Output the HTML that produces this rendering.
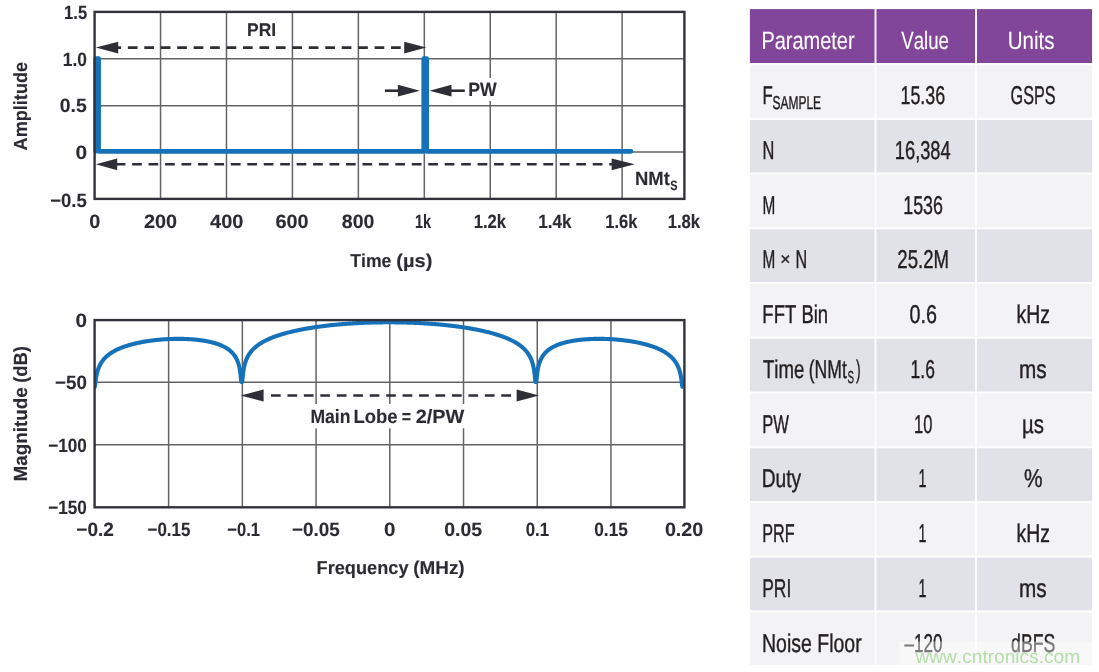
<!DOCTYPE html>
<html lang="en"><head><meta charset="utf-8"><title>Pulse train: time and frequency domain</title>
<style>
html,body{margin:0;padding:0;background:#fff;}
body{width:1099px;height:672px;overflow:hidden;}
svg{display:block;font-family:"Liberation Sans",sans-serif;font-kerning:none;text-rendering:geometricPrecision;}
</style></head><body>
<svg width="1099" height="672" viewBox="0 0 1099 672">
<rect width="1099" height="672" fill="#fff"/>
<g stroke="#666367" stroke-width="1.5" fill="none">
<line x1="160.54" y1="11.9" x2="160.54" y2="198.9"/>
<line x1="226.48" y1="11.9" x2="226.48" y2="198.9"/>
<line x1="292.42" y1="11.9" x2="292.42" y2="198.9"/>
<line x1="358.36" y1="11.9" x2="358.36" y2="198.9"/>
<line x1="424.30" y1="11.9" x2="424.30" y2="198.9"/>
<line x1="490.24" y1="11.9" x2="490.24" y2="198.9"/>
<line x1="556.18" y1="11.9" x2="556.18" y2="198.9"/>
<line x1="622.12" y1="11.9" x2="622.12" y2="198.9"/>
<line x1="94.6" y1="58.8" x2="684.4" y2="58.8"/>
<line x1="94.6" y1="105.7" x2="684.4" y2="105.7"/>
<line x1="94.6" y1="151.9" x2="684.4" y2="151.9"/>
</g>
<rect x="466.5" y="78" width="33" height="23" fill="#fff"/>
<path d="M95.8,151.3 V58.6 H98.55 V151.3 H423.8 V58.6 H426.6 V151.3 H631" fill="none" stroke="#1571b9" stroke-width="4.8" stroke-linejoin="round" stroke-linecap="round"/>
<rect x="94.6" y="11.9" width="589.80" height="187.00" fill="none" stroke="#32323a" stroke-width="2.4"/>
<line x1="111.4" y1="47.6" x2="410" y2="47.6" stroke="#2e2e36" stroke-width="2.6" stroke-dasharray="9.7 6.75"/>
<polygon points="95.8,47.6 118.19999999999999,41.7 118.19999999999999,53.5" fill="#2e2e36"/>
<polygon points="426.3,47.6 404.2,41.7 404.2,53.5" fill="#2e2e36"/>
<line x1="115.7" y1="164.3" x2="615" y2="164.3" stroke="#2e2e36" stroke-width="2.6" stroke-dasharray="9.7 6.75"/>
<polygon points="95.8,164.3 117.19999999999999,158.4 117.19999999999999,170.20000000000002" fill="#2e2e36"/>
<polygon points="634.7,164.3 611.6,158.4 611.6,170.20000000000002" fill="#2e2e36"/>
<line x1="384.9" y1="90.7" x2="400" y2="90.7" stroke="#2e2e36" stroke-width="2.6"/>
<polygon points="419.9,90.7 397.9,84.8 397.9,96.60000000000001" fill="#2e2e36"/>
<line x1="450" y1="90.7" x2="464.8" y2="90.7" stroke="#2e2e36" stroke-width="2.6"/>
<polygon points="429.5,90.7 451.5,84.8 451.5,96.60000000000001" fill="#2e2e36"/>
<text transform="translate(247.09,36.30) scale(0.9480,1)" font-size="18.43" font-weight="700" fill="#2b2b33" stroke="#2b2b33" stroke-width="0.12">PRI</text>
<text transform="translate(468.27,95.90) scale(0.9239,1)" font-size="19.14" font-weight="700" fill="#2b2b33" stroke="#2b2b33" stroke-width="0.12">PW</text>
<text transform="translate(635.02,185.30) scale(0.9569,1)" font-size="19.29" font-weight="700" fill="#2b2b33" stroke="#2b2b33" stroke-width="0.12">NMt</text>
<text transform="translate(670.34,189.60) scale(0.8083,1)" font-size="13.43" font-weight="700" fill="#2b2b33" stroke="#2b2b33" stroke-width="0.12">S</text>
<text transform="translate(64.11,18.90) scale(0.8579,1)" font-size="19.29" font-weight="700" fill="#2b2b33" stroke="#2b2b33" stroke-width="0.12">1.5</text>
<text transform="translate(62.76,66.30) scale(0.9027,1)" font-size="19.29" font-weight="700" fill="#2b2b33" stroke="#2b2b33" stroke-width="0.12">1.0</text>
<text transform="translate(59.79,111.50) scale(1.0066,1)" font-size="19.29" font-weight="700" fill="#2b2b33" stroke="#2b2b33" stroke-width="0.12">0.5</text>
<text transform="translate(75.54,159.20) scale(1.0870,1)" font-size="19.29" font-weight="700" fill="#2b2b33" stroke="#2b2b33" stroke-width="0.12">0</text>
<text transform="translate(50.19,206.80) scale(0.9632,1)" font-size="19.29" font-weight="700" fill="#2b2b33" stroke="#2b2b33" stroke-width="0.12">−0.5</text>
<text transform="translate(89.37,227.70) scale(1.0331,1)" font-size="19.29" font-weight="700" fill="#2b2b33" stroke="#2b2b33" stroke-width="0.12">0</text>
<text transform="translate(143.97,227.70) scale(1.0312,1)" font-size="19.29" font-weight="700" fill="#2b2b33" stroke="#2b2b33" stroke-width="0.12">200</text>
<text transform="translate(210.06,227.70) scale(1.0380,1)" font-size="19.29" font-weight="700" fill="#2b2b33" stroke="#2b2b33" stroke-width="0.12">400</text>
<text transform="translate(275.43,227.70) scale(1.0292,1)" font-size="19.29" font-weight="700" fill="#2b2b33" stroke="#2b2b33" stroke-width="0.12">600</text>
<text transform="translate(341.84,227.70) scale(1.0131,1)" font-size="19.29" font-weight="700" fill="#2b2b33" stroke="#2b2b33" stroke-width="0.12">800</text>
<text transform="translate(415.03,227.70) scale(0.7509,1)" font-size="19.29" font-weight="700" fill="#2b2b33" stroke="#2b2b33" stroke-width="0.12">1k</text>
<text transform="translate(473.70,227.70) scale(0.8640,1)" font-size="19.29" font-weight="700" fill="#2b2b33" stroke="#2b2b33" stroke-width="0.12">1.2k</text>
<text transform="translate(538.27,227.70) scale(0.8887,1)" font-size="19.29" font-weight="700" fill="#2b2b33" stroke="#2b2b33" stroke-width="0.12">1.4k</text>
<text transform="translate(605.21,227.70) scale(0.8557,1)" font-size="19.29" font-weight="700" fill="#2b2b33" stroke="#2b2b33" stroke-width="0.12">1.6k</text>
<text transform="translate(667.70,227.70) scale(0.8640,1)" font-size="19.29" font-weight="700" fill="#2b2b33" stroke="#2b2b33" stroke-width="0.12">1.8k</text>
<g><text transform="translate(350.26,266.60) scale(0.9430,1)" font-size="18.71" font-weight="700" fill="#2b2b33" stroke="#2b2b33" stroke-width="0.12">Time</text><text transform="translate(396.37,266.60) scale(1.0717,1)" font-size="18.71" font-weight="700" fill="#2b2b33" stroke="#2b2b33" stroke-width="0.12">(µs)</text></g>
<text transform="translate(26.90,150.39) rotate(-90) scale(0.9523,1)" font-size="19.00" font-weight="700" fill="#2b2b33" stroke="#2b2b33" stroke-width="0.12">Amplitude</text>
<g stroke="#666367" stroke-width="1.5" fill="none">
<line x1="168.62" y1="320.1" x2="168.62" y2="507.3"/>
<line x1="242.35" y1="320.1" x2="242.35" y2="507.3"/>
<line x1="316.07" y1="320.1" x2="316.07" y2="507.3"/>
<line x1="389.80" y1="320.1" x2="389.80" y2="507.3"/>
<line x1="463.52" y1="320.1" x2="463.52" y2="507.3"/>
<line x1="537.25" y1="320.1" x2="537.25" y2="507.3"/>
<line x1="610.97" y1="320.1" x2="610.97" y2="507.3"/>
<line x1="94.6" y1="382.2" x2="684.4" y2="382.2"/>
<line x1="94.6" y1="444.7" x2="684.4" y2="444.7"/>
</g>
<rect x="307" y="404" width="162" height="24.3" fill="#fff"/>
<clipPath id="cp2"><rect x="94.6" y="320.1" width="589.80" height="187.20"/></clipPath>
<path d="M94.30,387.00 L94.79,387.00 L95.28,384.09 L95.77,379.68 L96.27,376.55 L96.76,374.11 L97.25,372.12 L97.74,370.43 L98.23,368.97 L98.72,367.68 L99.21,366.52 L99.71,365.47 L100.20,364.52 L100.69,363.63 L101.18,362.82 L101.67,362.06 L102.16,361.35 L102.66,360.68 L103.15,360.05 L103.64,359.45 L104.13,358.88 L104.62,358.34 L105.11,357.83 L105.60,357.34 L106.10,356.86 L106.59,356.41 L107.08,355.98 L107.57,355.56 L108.06,355.16 L108.55,354.77 L109.05,354.40 L109.54,354.03 L110.03,353.68 L110.52,353.34 L111.01,353.01 L111.50,352.69 L111.99,352.38 L112.49,352.08 L112.98,351.79 L113.47,351.50 L113.96,351.23 L114.45,350.96 L114.94,350.69 L115.43,350.43 L115.93,350.18 L116.42,349.94 L116.91,349.70 L117.40,349.46 L117.89,349.24 L118.38,349.01 L118.87,348.79 L119.37,348.58 L119.86,348.37 L120.35,348.16 L120.84,347.96 L121.33,347.77 L121.82,347.57 L122.32,347.39 L122.81,347.20 L123.30,347.02 L123.79,346.84 L124.28,346.67 L124.77,346.49 L125.26,346.33 L125.76,346.16 L126.25,346.00 L126.74,345.84 L127.23,345.68 L127.72,345.53 L128.21,345.38 L128.70,345.23 L129.20,345.09 L129.69,344.95 L130.18,344.81 L130.67,344.67 L131.16,344.53 L131.65,344.40 L132.15,344.27 L132.64,344.14 L133.13,344.01 L133.62,343.89 L134.11,343.77 L134.60,343.65 L135.09,343.53 L135.59,343.41 L136.08,343.30 L136.57,343.19 L137.06,343.08 L137.55,342.97 L138.04,342.86 L138.53,342.76 L139.03,342.66 L139.52,342.55 L140.01,342.45 L140.50,342.36 L140.99,342.26 L141.48,342.17 L141.98,342.07 L142.47,341.98 L142.96,341.89 L143.45,341.81 L143.94,341.72 L144.43,341.63 L144.92,341.55 L145.42,341.47 L145.91,341.39 L146.40,341.31 L146.89,341.23 L147.38,341.16 L147.87,341.08 L148.37,341.01 L148.86,340.94 L149.35,340.86 L149.84,340.80 L150.33,340.73 L150.82,340.66 L151.31,340.60 L151.81,340.53 L152.30,340.47 L152.79,340.41 L153.28,340.35 L153.77,340.29 L154.26,340.23 L154.75,340.17 L155.25,340.12 L155.74,340.07 L156.23,340.01 L156.72,339.96 L157.21,339.91 L157.70,339.86 L158.19,339.81 L158.69,339.77 L159.18,339.72 L159.67,339.68 L160.16,339.64 L160.65,339.59 L161.14,339.55 L161.64,339.51 L162.13,339.48 L162.62,339.44 L163.11,339.40 L163.60,339.37 L164.09,339.33 L164.58,339.30 L165.08,339.27 L165.57,339.24 L166.06,339.21 L166.55,339.18 L167.04,339.15 L167.53,339.13 L168.02,339.10 L168.52,339.08 L169.01,339.06 L169.50,339.04 L169.99,339.02 L170.48,339.00 L170.97,338.98 L171.47,338.96 L171.96,338.95 L172.45,338.93 L172.94,338.92 L173.43,338.91 L173.92,338.90 L174.41,338.89 L174.91,338.88 L175.40,338.87 L175.89,338.86 L176.38,338.86 L176.87,338.86 L177.36,338.85 L177.85,338.85 L178.35,338.85 L178.84,338.85 L179.33,338.85 L179.82,338.86 L180.31,338.86 L180.80,338.87 L181.30,338.87 L181.79,338.88 L182.28,338.89 L182.77,338.90 L183.26,338.91 L183.75,338.92 L184.24,338.94 L184.74,338.95 L185.23,338.97 L185.72,338.99 L186.21,339.01 L186.70,339.03 L187.19,339.05 L187.69,339.08 L188.18,339.10 L188.67,339.13 L189.16,339.15 L189.65,339.18 L190.14,339.21 L190.63,339.24 L191.13,339.28 L191.62,339.31 L192.11,339.35 L192.60,339.39 L193.09,339.43 L193.58,339.47 L194.07,339.51 L194.57,339.55 L195.06,339.60 L195.55,339.65 L196.04,339.69 L196.53,339.74 L197.02,339.80 L197.51,339.85 L198.01,339.91 L198.50,339.96 L198.99,340.02 L199.48,340.08 L199.97,340.15 L200.46,340.21 L200.96,340.28 L201.45,340.35 L201.94,340.42 L202.43,340.49 L202.92,340.56 L203.41,340.64 L203.90,340.72 L204.40,340.80 L204.89,340.88 L205.38,340.97 L205.87,341.06 L206.36,341.15 L206.85,341.24 L207.34,341.34 L207.84,341.44 L208.33,341.54 L208.82,341.64 L209.31,341.75 L209.80,341.85 L210.29,341.97 L210.79,342.08 L211.28,342.20 L211.77,342.32 L212.26,342.45 L212.75,342.57 L213.24,342.70 L213.73,342.84 L214.23,342.98 L214.72,343.12 L215.21,343.27 L215.70,343.42 L216.19,343.57 L216.68,343.73 L217.17,343.89 L217.67,344.06 L218.16,344.23 L218.65,344.41 L219.14,344.60 L219.63,344.78 L220.12,344.98 L220.62,345.18 L221.11,345.38 L221.60,345.60 L222.09,345.82 L222.58,346.04 L223.07,346.28 L223.56,346.52 L224.06,346.77 L224.55,347.03 L225.04,347.30 L225.53,347.57 L226.02,347.86 L226.51,348.16 L227.00,348.47 L227.50,348.79 L227.99,349.13 L228.48,349.48 L228.97,349.85 L229.46,350.23 L229.95,350.63 L230.45,351.05 L230.94,351.49 L231.43,351.95 L231.92,352.43 L232.41,352.95 L232.90,353.49 L233.39,354.07 L233.89,354.69 L234.38,355.35 L234.87,356.05 L235.36,356.82 L235.85,357.65 L236.34,358.55 L236.83,359.54 L237.33,360.65 L237.82,361.89 L238.31,363.30 L238.80,364.93 L239.29,366.87 L239.78,369.25 L240.28,372.33 L240.77,376.69 L241.26,381.90 L241.75,381.90 L242.24,381.90 L242.73,376.54 L243.22,372.11 L243.71,368.96 L244.20,366.51 L244.69,364.49 L245.18,362.79 L245.67,361.31 L246.16,360.00 L246.65,358.82 L247.14,357.75 L247.63,356.78 L248.12,355.88 L248.61,355.04 L249.10,354.26 L249.59,353.53 L250.08,352.84 L250.57,352.19 L251.06,351.57 L251.55,350.99 L252.04,350.43 L252.53,349.89 L253.02,349.38 L253.51,348.89 L254.00,348.42 L254.49,347.96 L254.98,347.52 L255.47,347.10 L255.96,346.69 L256.46,346.30 L256.95,345.91 L257.44,345.54 L257.93,345.18 L258.42,344.83 L258.91,344.49 L259.40,344.16 L259.89,343.83 L260.38,343.52 L260.87,343.21 L261.36,342.91 L261.85,342.62 L262.34,342.33 L262.83,342.05 L263.32,341.78 L263.81,341.51 L264.30,341.24 L264.79,340.99 L265.28,340.74 L265.77,340.49 L266.26,340.25 L266.75,340.01 L267.24,339.78 L267.73,339.55 L268.22,339.32 L268.71,339.10 L269.20,338.88 L269.69,338.67 L270.18,338.46 L270.67,338.25 L271.16,338.05 L271.65,337.85 L272.14,337.65 L272.63,337.46 L273.12,337.27 L273.61,337.08 L274.10,336.90 L274.59,336.71 L275.08,336.54 L275.57,336.36 L276.06,336.18 L276.55,336.01 L277.04,335.84 L277.53,335.68 L278.02,335.51 L278.51,335.35 L279.00,335.19 L279.49,335.03 L279.98,334.87 L280.47,334.72 L280.96,334.56 L281.45,334.41 L281.94,334.27 L282.43,334.12 L282.92,333.97 L283.41,333.83 L283.90,333.69 L284.39,333.55 L284.89,333.41 L285.38,333.27 L285.87,333.14 L286.36,333.01 L286.85,332.87 L287.34,332.74 L287.83,332.62 L288.32,332.49 L288.81,332.36 L289.30,332.24 L289.79,332.11 L290.28,331.99 L290.77,331.87 L291.26,331.75 L291.75,331.64 L292.24,331.52 L292.73,331.40 L293.22,331.29 L293.71,331.18 L294.20,331.07 L294.69,330.96 L295.18,330.85 L295.67,330.74 L296.16,330.63 L296.65,330.52 L297.14,330.42 L297.63,330.32 L298.12,330.21 L298.61,330.11 L299.10,330.01 L299.59,329.91 L300.08,329.81 L300.57,329.72 L301.06,329.62 L301.55,329.52 L302.04,329.43 L302.53,329.33 L303.02,329.24 L303.51,329.15 L304.00,329.06 L304.49,328.97 L304.98,328.88 L305.47,328.79 L305.96,328.70 L306.45,328.62 L306.94,328.53 L307.43,328.45 L307.92,328.36 L308.41,328.28 L308.90,328.20 L309.39,328.12 L309.88,328.03 L310.37,327.95 L310.86,327.88 L311.35,327.80 L311.84,327.72 L312.33,327.64 L312.82,327.57 L313.32,327.49 L313.81,327.42 L314.30,327.34 L314.79,327.27 L315.28,327.20 L315.77,327.12 L316.26,327.05 L316.75,326.98 L317.24,326.91 L317.73,326.84 L318.22,326.77 L318.71,326.71 L319.20,326.64 L319.69,326.57 L320.18,326.51 L320.67,326.44 L321.16,326.38 L321.65,326.31 L322.14,326.25 L322.63,326.19 L323.12,326.13 L323.61,326.06 L324.10,326.00 L324.59,325.94 L325.08,325.88 L325.57,325.82 L326.06,325.77 L326.55,325.71 L327.04,325.65 L327.53,325.59 L328.02,325.54 L328.51,325.48 L329.00,325.43 L329.49,325.37 L329.98,325.32 L330.47,325.27 L330.96,325.21 L331.45,325.16 L331.94,325.11 L332.43,325.06 L332.92,325.01 L333.41,324.96 L333.90,324.91 L334.39,324.86 L334.88,324.81 L335.37,324.77 L335.86,324.72 L336.35,324.67 L336.84,324.63 L337.33,324.58 L337.82,324.53 L338.31,324.49 L338.80,324.45 L339.29,324.40 L339.78,324.36 L340.27,324.32 L340.76,324.27 L341.25,324.23 L341.75,324.19 L342.24,324.15 L342.73,324.11 L343.22,324.07 L343.71,324.03 L344.20,323.99 L344.69,323.96 L345.18,323.92 L345.67,323.88 L346.16,323.84 L346.65,323.81 L347.14,323.77 L347.63,323.74 L348.12,323.70 L348.61,323.67 L349.10,323.63 L349.59,323.60 L350.08,323.57 L350.57,323.53 L351.06,323.50 L351.55,323.47 L352.04,323.44 L352.53,323.41 L353.02,323.38 L353.51,323.35 L354.00,323.32 L354.49,323.29 L354.98,323.26 L355.47,323.23 L355.96,323.20 L356.45,323.18 L356.94,323.15 L357.43,323.12 L357.92,323.10 L358.41,323.07 L358.90,323.05 L359.39,323.02 L359.88,323.00 L360.37,322.97 L360.86,322.95 L361.35,322.93 L361.84,322.91 L362.33,322.88 L362.82,322.86 L363.31,322.84 L363.80,322.82 L364.29,322.80 L364.78,322.78 L365.27,322.76 L365.76,322.74 L366.25,322.72 L366.74,322.70 L367.23,322.69 L367.72,322.67 L368.21,322.65 L368.70,322.64 L369.19,322.62 L369.69,322.60 L370.18,322.59 L370.67,322.57 L371.16,322.56 L371.65,322.54 L372.14,322.53 L372.63,322.52 L373.12,322.50 L373.61,322.49 L374.10,322.48 L374.59,322.47 L375.08,322.46 L375.57,322.44 L376.06,322.43 L376.55,322.42 L377.04,322.41 L377.53,322.41 L378.02,322.40 L378.51,322.39 L379.00,322.38 L379.49,322.37 L379.98,322.36 L380.47,322.36 L380.96,322.35 L381.45,322.34 L381.94,322.34 L382.43,322.33 L382.92,322.33 L383.41,322.32 L383.90,322.32 L384.39,322.32 L384.88,322.31 L385.37,322.31 L385.86,322.31 L386.35,322.30 L386.84,322.30 L387.33,322.30 L387.82,322.30 L388.31,322.30 L388.80,322.30 L389.29,322.30 L389.78,322.30 L390.27,322.30 L390.76,322.30 L391.25,322.30 L391.74,322.31 L392.23,322.31 L392.72,322.31 L393.21,322.32 L393.70,322.32 L394.19,322.32 L394.68,322.33 L395.17,322.33 L395.66,322.34 L396.15,322.34 L396.64,322.35 L397.13,322.36 L397.62,322.36 L398.12,322.37 L398.61,322.38 L399.10,322.39 L399.59,322.40 L400.08,322.41 L400.57,322.41 L401.06,322.42 L401.55,322.43 L402.04,322.44 L402.53,322.46 L403.02,322.47 L403.51,322.48 L404.00,322.49 L404.49,322.50 L404.98,322.52 L405.47,322.53 L405.96,322.54 L406.45,322.56 L406.94,322.57 L407.43,322.59 L407.92,322.60 L408.41,322.62 L408.90,322.64 L409.39,322.65 L409.88,322.67 L410.37,322.69 L410.86,322.70 L411.35,322.72 L411.84,322.74 L412.33,322.76 L412.82,322.78 L413.31,322.80 L413.80,322.82 L414.29,322.84 L414.78,322.86 L415.27,322.88 L415.76,322.91 L416.25,322.93 L416.74,322.95 L417.23,322.97 L417.72,323.00 L418.21,323.02 L418.70,323.05 L419.19,323.07 L419.68,323.10 L420.17,323.12 L420.66,323.15 L421.15,323.18 L421.64,323.20 L422.13,323.23 L422.62,323.26 L423.11,323.29 L423.60,323.32 L424.09,323.35 L424.58,323.38 L425.07,323.41 L425.56,323.44 L426.05,323.47 L426.55,323.50 L427.04,323.53 L427.53,323.57 L428.02,323.60 L428.51,323.63 L429.00,323.67 L429.49,323.70 L429.98,323.74 L430.47,323.77 L430.96,323.81 L431.45,323.84 L431.94,323.88 L432.43,323.92 L432.92,323.96 L433.41,323.99 L433.90,324.03 L434.39,324.07 L434.88,324.11 L435.37,324.15 L435.86,324.19 L436.35,324.23 L436.84,324.27 L437.33,324.32 L437.82,324.36 L438.31,324.40 L438.80,324.45 L439.29,324.49 L439.78,324.53 L440.27,324.58 L440.76,324.63 L441.25,324.67 L441.74,324.72 L442.23,324.77 L442.72,324.81 L443.21,324.86 L443.70,324.91 L444.19,324.96 L444.68,325.01 L445.17,325.06 L445.66,325.11 L446.15,325.16 L446.64,325.21 L447.13,325.27 L447.62,325.32 L448.11,325.37 L448.60,325.43 L449.09,325.48 L449.58,325.54 L450.07,325.59 L450.56,325.65 L451.05,325.71 L451.54,325.77 L452.03,325.82 L452.52,325.88 L453.01,325.94 L453.50,326.00 L453.99,326.06 L454.48,326.13 L454.98,326.19 L455.47,326.25 L455.96,326.31 L456.45,326.38 L456.94,326.44 L457.43,326.51 L457.92,326.57 L458.41,326.64 L458.90,326.71 L459.39,326.77 L459.88,326.84 L460.37,326.91 L460.86,326.98 L461.35,327.05 L461.84,327.12 L462.33,327.20 L462.82,327.27 L463.31,327.34 L463.80,327.42 L464.29,327.49 L464.78,327.57 L465.27,327.64 L465.76,327.72 L466.25,327.80 L466.74,327.88 L467.23,327.95 L467.72,328.03 L468.21,328.12 L468.70,328.20 L469.19,328.28 L469.68,328.36 L470.17,328.45 L470.66,328.53 L471.15,328.62 L471.64,328.70 L472.13,328.79 L472.62,328.88 L473.11,328.97 L473.60,329.06 L474.09,329.15 L474.58,329.24 L475.07,329.33 L475.56,329.43 L476.05,329.52 L476.54,329.62 L477.03,329.72 L477.52,329.81 L478.01,329.91 L478.50,330.01 L478.99,330.11 L479.48,330.21 L479.97,330.32 L480.46,330.42 L480.95,330.52 L481.44,330.63 L481.93,330.74 L482.42,330.85 L482.91,330.96 L483.41,331.07 L483.90,331.18 L484.39,331.29 L484.88,331.40 L485.37,331.52 L485.86,331.64 L486.35,331.75 L486.84,331.87 L487.33,331.99 L487.82,332.11 L488.31,332.24 L488.80,332.36 L489.29,332.49 L489.78,332.62 L490.27,332.74 L490.76,332.87 L491.25,333.01 L491.74,333.14 L492.23,333.27 L492.72,333.41 L493.21,333.55 L493.70,333.69 L494.19,333.83 L494.68,333.97 L495.17,334.12 L495.66,334.27 L496.15,334.41 L496.64,334.56 L497.13,334.72 L497.62,334.87 L498.11,335.03 L498.60,335.19 L499.09,335.35 L499.58,335.51 L500.07,335.68 L500.56,335.84 L501.05,336.01 L501.54,336.18 L502.03,336.36 L502.52,336.54 L503.01,336.71 L503.50,336.90 L503.99,337.08 L504.48,337.27 L504.97,337.46 L505.46,337.65 L505.95,337.85 L506.44,338.05 L506.93,338.25 L507.42,338.46 L507.91,338.67 L508.40,338.88 L508.89,339.10 L509.38,339.32 L509.87,339.55 L510.36,339.78 L510.85,340.01 L511.34,340.25 L511.84,340.49 L512.33,340.74 L512.82,340.99 L513.31,341.24 L513.80,341.51 L514.29,341.78 L514.78,342.05 L515.27,342.33 L515.76,342.62 L516.25,342.91 L516.74,343.21 L517.23,343.52 L517.72,343.83 L518.21,344.16 L518.70,344.49 L519.19,344.83 L519.68,345.18 L520.17,345.54 L520.66,345.91 L521.15,346.30 L521.64,346.69 L522.13,347.10 L522.62,347.52 L523.11,347.96 L523.60,348.42 L524.09,348.89 L524.58,349.38 L525.07,349.89 L525.56,350.43 L526.05,350.99 L526.54,351.57 L527.03,352.19 L527.52,352.84 L528.01,353.53 L528.50,354.26 L528.99,355.04 L529.48,355.88 L529.97,356.78 L530.46,357.75 L530.95,358.82 L531.44,360.00 L531.93,361.31 L532.42,362.79 L532.91,364.49 L533.40,366.51 L533.89,368.96 L534.38,372.11 L534.87,376.54 L535.36,381.90 L535.85,381.90 L536.34,381.90 L536.83,376.69 L537.32,372.33 L537.81,369.25 L538.30,366.87 L538.79,364.93 L539.28,363.30 L539.78,361.89 L540.27,360.65 L540.76,359.54 L541.25,358.55 L541.74,357.65 L542.23,356.82 L542.72,356.05 L543.21,355.35 L543.70,354.69 L544.19,354.07 L544.68,353.49 L545.17,352.95 L545.66,352.43 L546.15,351.95 L546.64,351.49 L547.13,351.05 L547.62,350.63 L548.11,350.23 L548.60,349.85 L549.09,349.48 L549.58,349.13 L550.07,348.79 L550.56,348.47 L551.05,348.16 L551.54,347.86 L552.03,347.57 L552.52,347.30 L553.01,347.03 L553.50,346.77 L553.99,346.52 L554.48,346.28 L554.97,346.04 L555.46,345.82 L555.95,345.60 L556.44,345.38 L556.93,345.18 L557.42,344.98 L557.91,344.78 L558.40,344.60 L558.89,344.41 L559.38,344.23 L559.87,344.06 L560.36,343.89 L560.85,343.73 L561.34,343.57 L561.83,343.42 L562.32,343.27 L562.81,343.12 L563.30,342.98 L563.79,342.84 L564.28,342.70 L564.77,342.57 L565.26,342.45 L565.75,342.32 L566.24,342.20 L566.73,342.08 L567.22,341.97 L567.71,341.85 L568.21,341.75 L568.70,341.64 L569.19,341.54 L569.68,341.44 L570.17,341.34 L570.66,341.24 L571.15,341.15 L571.64,341.06 L572.13,340.97 L572.62,340.88 L573.11,340.80 L573.60,340.72 L574.09,340.64 L574.58,340.56 L575.07,340.49 L575.56,340.42 L576.05,340.35 L576.54,340.28 L577.03,340.21 L577.52,340.15 L578.01,340.08 L578.50,340.02 L578.99,339.96 L579.48,339.91 L579.97,339.85 L580.46,339.80 L580.95,339.74 L581.44,339.69 L581.93,339.65 L582.42,339.60 L582.91,339.55 L583.40,339.51 L583.89,339.47 L584.38,339.43 L584.87,339.39 L585.36,339.35 L585.85,339.31 L586.34,339.28 L586.83,339.24 L587.32,339.21 L587.81,339.18 L588.30,339.15 L588.79,339.13 L589.28,339.10 L589.77,339.08 L590.26,339.05 L590.75,339.03 L591.24,339.01 L591.73,338.99 L592.22,338.97 L592.71,338.95 L593.20,338.94 L593.69,338.92 L594.18,338.91 L594.67,338.90 L595.16,338.89 L595.65,338.88 L596.14,338.87 L596.64,338.87 L597.13,338.86 L597.62,338.86 L598.11,338.85 L598.60,338.85 L599.09,338.85 L599.58,338.85 L600.07,338.85 L600.56,338.86 L601.05,338.86 L601.54,338.86 L602.03,338.87 L602.52,338.88 L603.01,338.89 L603.50,338.90 L603.99,338.91 L604.48,338.92 L604.97,338.93 L605.46,338.95 L605.95,338.96 L606.44,338.98 L606.93,339.00 L607.42,339.02 L607.91,339.04 L608.40,339.06 L608.89,339.08 L609.38,339.10 L609.87,339.13 L610.36,339.15 L610.85,339.18 L611.34,339.21 L611.83,339.24 L612.32,339.27 L612.81,339.30 L613.30,339.33 L613.79,339.37 L614.28,339.40 L614.77,339.44 L615.26,339.48 L615.75,339.51 L616.24,339.55 L616.73,339.59 L617.22,339.64 L617.71,339.68 L618.20,339.72 L618.69,339.77 L619.18,339.81 L619.67,339.86 L620.16,339.91 L620.65,339.96 L621.14,340.01 L621.63,340.07 L622.12,340.12 L622.61,340.17 L623.10,340.23 L623.59,340.29 L624.08,340.35 L624.57,340.41 L625.07,340.47 L625.56,340.53 L626.05,340.60 L626.54,340.66 L627.03,340.73 L627.52,340.80 L628.01,340.86 L628.50,340.94 L628.99,341.01 L629.48,341.08 L629.97,341.16 L630.46,341.23 L630.95,341.31 L631.44,341.39 L631.93,341.47 L632.42,341.55 L632.91,341.63 L633.40,341.72 L633.89,341.81 L634.38,341.89 L634.87,341.98 L635.36,342.07 L635.85,342.17 L636.34,342.26 L636.83,342.36 L637.32,342.45 L637.81,342.55 L638.30,342.66 L638.79,342.76 L639.28,342.86 L639.77,342.97 L640.26,343.08 L640.75,343.19 L641.24,343.30 L641.73,343.41 L642.22,343.53 L642.71,343.65 L643.20,343.77 L643.69,343.89 L644.18,344.01 L644.67,344.14 L645.16,344.27 L645.65,344.40 L646.14,344.53 L646.63,344.67 L647.12,344.81 L647.61,344.95 L648.10,345.09 L648.59,345.23 L649.08,345.38 L649.57,345.53 L650.06,345.68 L650.55,345.84 L651.04,346.00 L651.53,346.16 L652.02,346.33 L652.51,346.49 L653.00,346.67 L653.50,346.84 L653.99,347.02 L654.48,347.20 L654.97,347.39 L655.46,347.57 L655.95,347.77 L656.44,347.96 L656.93,348.16 L657.42,348.37 L657.91,348.58 L658.40,348.79 L658.89,349.01 L659.38,349.24 L659.87,349.46 L660.36,349.70 L660.85,349.94 L661.34,350.18 L661.83,350.43 L662.32,350.69 L662.81,350.96 L663.30,351.23 L663.79,351.50 L664.28,351.79 L664.77,352.08 L665.26,352.38 L665.75,352.69 L666.24,353.01 L666.73,353.34 L667.22,353.68 L667.71,354.03 L668.20,354.40 L668.69,354.77 L669.18,355.16 L669.67,355.56 L670.16,355.98 L670.65,356.41 L671.14,356.86 L671.63,357.34 L672.12,357.83 L672.61,358.34 L673.10,358.88 L673.59,359.45 L674.08,360.05 L674.57,360.68 L675.06,361.35 L675.55,362.06 L676.04,362.82 L676.53,363.63 L677.02,364.52 L677.51,365.47 L678.00,366.52 L678.49,367.68 L678.98,368.97 L679.47,370.43 L679.96,372.12 L680.45,374.11 L680.94,376.55 L681.44,379.68 L681.93,384.09 L682.42,387.00 L682.91,387.00" fill="none" stroke="#1571b9" stroke-width="4.1" stroke-linejoin="round" stroke-linecap="butt" clip-path="url(#cp2)"/>
<rect x="94.6" y="320.1" width="589.80" height="187.20" fill="none" stroke="#32323a" stroke-width="2.4"/>
<line x1="271" y1="395.5" x2="512" y2="395.5" stroke="#2e2e36" stroke-width="2.6" stroke-dasharray="9.7 6.75"/>
<polygon points="240.6,395.5 263.6,389.4 263.6,401.6" fill="#2e2e36"/>
<polygon points="539.0,395.5 516.6,389.4 516.6,401.6" fill="#2e2e36"/>
<g><text transform="translate(310.38,422.60) scale(0.9119,1)" font-size="19.29" font-weight="700" fill="#2b2b33" stroke="#2b2b33" stroke-width="0.12">Main</text><text transform="translate(353.42,422.60) scale(0.9562,1)" font-size="19.29" font-weight="700" fill="#2b2b33" stroke="#2b2b33" stroke-width="0.12">Lobe</text><text transform="translate(401.79,422.60) scale(0.8273,1)" font-size="19.29" font-weight="700" fill="#2b2b33" stroke="#2b2b33" stroke-width="0.12">=</text><text transform="translate(415.77,422.60) scale(1.0304,1)" font-size="19.29" font-weight="700" fill="#2b2b33" stroke="#2b2b33" stroke-width="0.12">2/PW</text></g>
<text transform="translate(75.54,327.30) scale(1.0762,1)" font-size="19.29" font-weight="700" fill="#2b2b33" stroke="#2b2b33" stroke-width="0.12">0</text>
<text transform="translate(55.08,389.00) scale(0.9730,1)" font-size="19.29" font-weight="700" fill="#2b2b33" stroke="#2b2b33" stroke-width="0.12">−50</text>
<text transform="translate(48.24,451.50) scale(0.8888,1)" font-size="19.29" font-weight="700" fill="#2b2b33" stroke="#2b2b33" stroke-width="0.12">−100</text>
<text transform="translate(48.24,513.90) scale(0.8888,1)" font-size="19.29" font-weight="700" fill="#2b2b33" stroke="#2b2b33" stroke-width="0.12">−150</text>
<text transform="translate(76.27,536.20) scale(0.9885,1)" font-size="19.29" font-weight="700" fill="#2b2b33" stroke="#2b2b33" stroke-width="0.12">−0.2</text>
<text transform="translate(147.55,536.20) scale(0.8785,1)" font-size="19.29" font-weight="700" fill="#2b2b33" stroke="#2b2b33" stroke-width="0.12">−0.15</text>
<text transform="translate(227.37,536.20) scale(0.8574,1)" font-size="19.29" font-weight="700" fill="#2b2b33" stroke="#2b2b33" stroke-width="0.12">−0.1</text>
<text transform="translate(291.97,536.20) scale(0.9815,1)" font-size="19.29" font-weight="700" fill="#2b2b33" stroke="#2b2b33" stroke-width="0.12">−0.05</text>
<text transform="translate(384.05,536.20) scale(1.0654,1)" font-size="19.29" font-weight="700" fill="#2b2b33" stroke="#2b2b33" stroke-width="0.12">0</text>
<text transform="translate(444.29,536.20) scale(1.0095,1)" font-size="19.29" font-weight="700" fill="#2b2b33" stroke="#2b2b33" stroke-width="0.12">0.05</text>
<text transform="translate(525.69,536.20) scale(0.8740,1)" font-size="19.29" font-weight="700" fill="#2b2b33" stroke="#2b2b33" stroke-width="0.12">0.1</text>
<text transform="translate(594.27,536.20) scale(0.8939,1)" font-size="19.29" font-weight="700" fill="#2b2b33" stroke="#2b2b33" stroke-width="0.12">0.15</text>
<text transform="translate(664.88,536.20) scale(1.0249,1)" font-size="19.29" font-weight="700" fill="#2b2b33" stroke="#2b2b33" stroke-width="0.12">0.20</text>
<g><text transform="translate(316.54,574.40) scale(0.9731,1)" font-size="18.71" font-weight="700" fill="#2b2b33" stroke="#2b2b33" stroke-width="0.12">Frequency</text><text transform="translate(413.22,574.40) scale(1.0106,1)" font-size="18.71" font-weight="700" fill="#2b2b33" stroke="#2b2b33" stroke-width="0.12">(MHz)</text></g>
<g><text transform="translate(26.90,481.40) rotate(-90) scale(0.9904,1)" font-size="19.00" font-weight="700" fill="#2b2b33" stroke="#2b2b33" stroke-width="0.12">Magnitude</text><text transform="translate(26.90,382.76) rotate(-90) scale(0.9666,1)" font-size="19.00" font-weight="700" fill="#2b2b33" stroke="#2b2b33" stroke-width="0.12">(dB)</text></g>
<rect x="749.9" y="9.1" width="342.20" height="53.90" fill="#81459a"/>
<rect x="749.9" y="63.00" width="342.20" height="55.83" fill="#f3f3f5"/>
<rect x="749.9" y="118.83" width="342.20" height="54.73" fill="#e1e2e8"/>
<rect x="749.9" y="173.56" width="342.20" height="54.73" fill="#f3f3f5"/>
<rect x="749.9" y="228.29" width="342.20" height="54.73" fill="#e1e2e8"/>
<rect x="749.9" y="283.02" width="342.20" height="54.73" fill="#f3f3f5"/>
<rect x="749.9" y="337.75" width="342.20" height="54.73" fill="#e1e2e8"/>
<rect x="749.9" y="392.48" width="342.20" height="54.73" fill="#f3f3f5"/>
<rect x="749.9" y="447.21" width="342.20" height="54.73" fill="#e1e2e8"/>
<rect x="749.9" y="501.94" width="342.20" height="54.73" fill="#f3f3f5"/>
<rect x="749.9" y="556.67" width="342.20" height="54.73" fill="#e1e2e8"/>
<rect x="749.9" y="611.40" width="342.20" height="53.50" fill="#f3f3f5"/>
<g stroke="#fdfdfe" stroke-width="2.1">
<line x1="749.9" y1="64.10" x2="1092.1" y2="64.10"/>
<line x1="749.9" y1="118.83" x2="1092.1" y2="118.83"/>
<line x1="749.9" y1="173.56" x2="1092.1" y2="173.56"/>
<line x1="749.9" y1="228.29" x2="1092.1" y2="228.29"/>
<line x1="749.9" y1="283.02" x2="1092.1" y2="283.02"/>
<line x1="749.9" y1="337.75" x2="1092.1" y2="337.75"/>
<line x1="749.9" y1="392.48" x2="1092.1" y2="392.48"/>
<line x1="749.9" y1="447.21" x2="1092.1" y2="447.21"/>
<line x1="749.9" y1="501.94" x2="1092.1" y2="501.94"/>
<line x1="749.9" y1="556.67" x2="1092.1" y2="556.67"/>
<line x1="749.9" y1="611.40" x2="1092.1" y2="611.40"/>
</g><g stroke="#fdfdfe" stroke-width="1.9">
<line x1="875.5" y1="9.1" x2="875.5" y2="664.9"/>
<line x1="976.0" y1="9.1" x2="976.0" y2="664.9"/>
</g>
<text transform="translate(761.41,49.20) scale(0.7947,1)" font-size="25.14" font-weight="400" fill="#fff" stroke="#fff" stroke-width="0.12">Parameter</text>
<text transform="translate(901.26,49.20) scale(0.7421,1)" font-size="25.14" font-weight="400" fill="#fff" stroke="#fff" stroke-width="0.12">Value</text>
<text transform="translate(1007.66,49.20) scale(0.8175,1)" font-size="25.14" font-weight="400" fill="#fff" stroke="#fff" stroke-width="0.12">Units</text>
<text transform="translate(762.45,104.10) scale(0.6554,1)" font-size="25.71" font-weight="400" fill="#231f20" stroke="#231f20" stroke-width="0.4">F</text>
<text transform="translate(772.38,109.10) scale(0.6428,1)" font-size="18.71" font-weight="400" fill="#231f20" stroke="#231f20" stroke-width="0.4">SAMPLE</text>
<text transform="translate(762.38,158.84) scale(0.6367,1)" font-size="25.71" font-weight="400" fill="#231f20" stroke="#231f20" stroke-width="0.4">N</text>
<text transform="translate(762.46,213.58) scale(0.5965,1)" font-size="25.71" font-weight="400" fill="#231f20" stroke="#231f20" stroke-width="0.4">M</text>
<text transform="translate(762.46,268.32) scale(0.5965,1)" font-size="25.71" font-weight="400" fill="#231f20" stroke="#231f20" stroke-width="0.4">M</text>
<text transform="translate(780.19,265.12) scale(0.9959,1)" font-size="17.57" font-weight="400" fill="#231f20" stroke="#231f20" stroke-width="0.4">×</text>
<text transform="translate(795.60,268.32) scale(0.6299,1)" font-size="25.71" font-weight="400" fill="#231f20" stroke="#231f20" stroke-width="0.4">N</text>
<text transform="translate(762.33,323.06) scale(0.7200,1)" font-size="25.71" font-weight="400" fill="#231f20" stroke="#231f20" stroke-width="0.4">FFT Bin</text>
<text transform="translate(762.93,377.80) scale(0.7237,1)" font-size="25.71" font-weight="400" fill="#231f20" stroke="#231f20" stroke-width="0.4">Time</text>
<text transform="translate(808.64,377.80) scale(0.6849,1)" font-size="25.71" font-weight="400" fill="#231f20" stroke="#231f20" stroke-width="0.4">(NMt</text>
<text transform="translate(847.57,383.20) scale(0.5559,1)" font-size="17.43" font-weight="400" fill="#231f20" stroke="#231f20" stroke-width="0.4">S</text>
<text transform="translate(856.03,377.80) scale(0.5403,1)" font-size="25.71" font-weight="400" fill="#231f20" stroke="#231f20" stroke-width="0.4">)</text>
<text transform="translate(762.27,432.54) scale(0.6461,1)" font-size="25.71" font-weight="400" fill="#231f20" stroke="#231f20" stroke-width="0.4">PW</text>
<text transform="translate(761.67,487.28) scale(0.7474,1)" font-size="25.71" font-weight="400" fill="#231f20" stroke="#231f20" stroke-width="0.4">Duty</text>
<text transform="translate(762.30,542.02) scale(0.6305,1)" font-size="25.71" font-weight="400" fill="#231f20" stroke="#231f20" stroke-width="0.4">PRF</text>
<text transform="translate(762.21,596.76) scale(0.6781,1)" font-size="25.71" font-weight="400" fill="#231f20" stroke="#231f20" stroke-width="0.4">PRI</text>
<text transform="translate(762.05,651.50) scale(0.7577,1)" font-size="25.71" font-weight="400" fill="#231f20" stroke="#231f20" stroke-width="0.4">Noise Floor</text>
<text transform="translate(900.48,104.10) scale(0.6958,1)" font-size="25.71" font-weight="400" fill="#231f20" stroke="#231f20" stroke-width="0.4">15.36</text>
<text transform="translate(894.85,158.84) scale(0.7100,1)" font-size="25.71" font-weight="400" fill="#231f20" stroke="#231f20" stroke-width="0.4">16,384</text>
<text transform="translate(903.28,213.58) scale(0.6934,1)" font-size="25.71" font-weight="400" fill="#231f20" stroke="#231f20" stroke-width="0.4">1536</text>
<text transform="translate(897.31,268.32) scale(0.7245,1)" font-size="25.71" font-weight="400" fill="#231f20" stroke="#231f20" stroke-width="0.4">25.2M</text>
<text transform="translate(909.58,323.06) scale(0.7674,1)" font-size="25.71" font-weight="400" fill="#231f20" stroke="#231f20" stroke-width="0.4">0.6</text>
<text transform="translate(910.61,377.80) scale(0.6776,1)" font-size="25.71" font-weight="400" fill="#231f20" stroke="#231f20" stroke-width="0.4">1.6</text>
<text transform="translate(914.07,432.54) scale(0.6413,1)" font-size="25.71" font-weight="400" fill="#231f20" stroke="#231f20" stroke-width="0.4">10</text>
<text transform="translate(918.52,487.28) scale(0.5572,1)" font-size="25.71" font-weight="400" fill="#231f20" stroke="#231f20" stroke-width="0.4">1</text>
<text transform="translate(918.52,542.02) scale(0.5572,1)" font-size="25.71" font-weight="400" fill="#231f20" stroke="#231f20" stroke-width="0.4">1</text>
<text transform="translate(918.52,596.76) scale(0.5572,1)" font-size="25.71" font-weight="400" fill="#231f20" stroke="#231f20" stroke-width="0.4">1</text>
<text transform="translate(904.53,651.50) scale(0.6625,1)" font-size="25.71" font-weight="400" fill="#231f20" stroke="#231f20" stroke-width="0.4">–120</text>
<text transform="translate(1010.61,104.10) scale(0.6299,1)" font-size="25.71" font-weight="400" fill="#231f20" stroke="#231f20" stroke-width="0.4">GSPS</text>
<text transform="translate(1016.44,323.06) scale(0.7559,1)" font-size="25.71" font-weight="400" fill="#231f20" stroke="#231f20" stroke-width="0.4">kHz</text>
<text transform="translate(1019.09,377.80) scale(0.8052,1)" font-size="25.71" font-weight="400" fill="#231f20" stroke="#231f20" stroke-width="0.4">ms</text>
<text transform="translate(1022.07,432.54) scale(0.7918,1)" font-size="25.71" font-weight="400" fill="#231f20" stroke="#231f20" stroke-width="0.4">µs</text>
<text transform="translate(1024.12,487.28) scale(0.8119,1)" font-size="25.71" font-weight="400" fill="#231f20" stroke="#231f20" stroke-width="0.4">%</text>
<text transform="translate(1016.44,542.02) scale(0.7559,1)" font-size="25.71" font-weight="400" fill="#231f20" stroke="#231f20" stroke-width="0.4">kHz</text>
<text transform="translate(1019.09,596.76) scale(0.8052,1)" font-size="25.71" font-weight="400" fill="#231f20" stroke="#231f20" stroke-width="0.4">ms</text>
<text transform="translate(1011.09,651.50) scale(0.6901,1)" font-size="25.71" font-weight="400" fill="#231f20" stroke="#231f20" stroke-width="0.4">dBFS</text>
<rect x="899" y="641.5" width="200" height="30.5" fill="#ffffff" fill-opacity="0.4"/>
<text transform="translate(915.43,663.20) scale(1.0076,1)" font-size="18.99" font-weight="400" fill="#8ccd78" fill-opacity="0.62">www.cntronics.com</text>
</svg>
</body></html>
